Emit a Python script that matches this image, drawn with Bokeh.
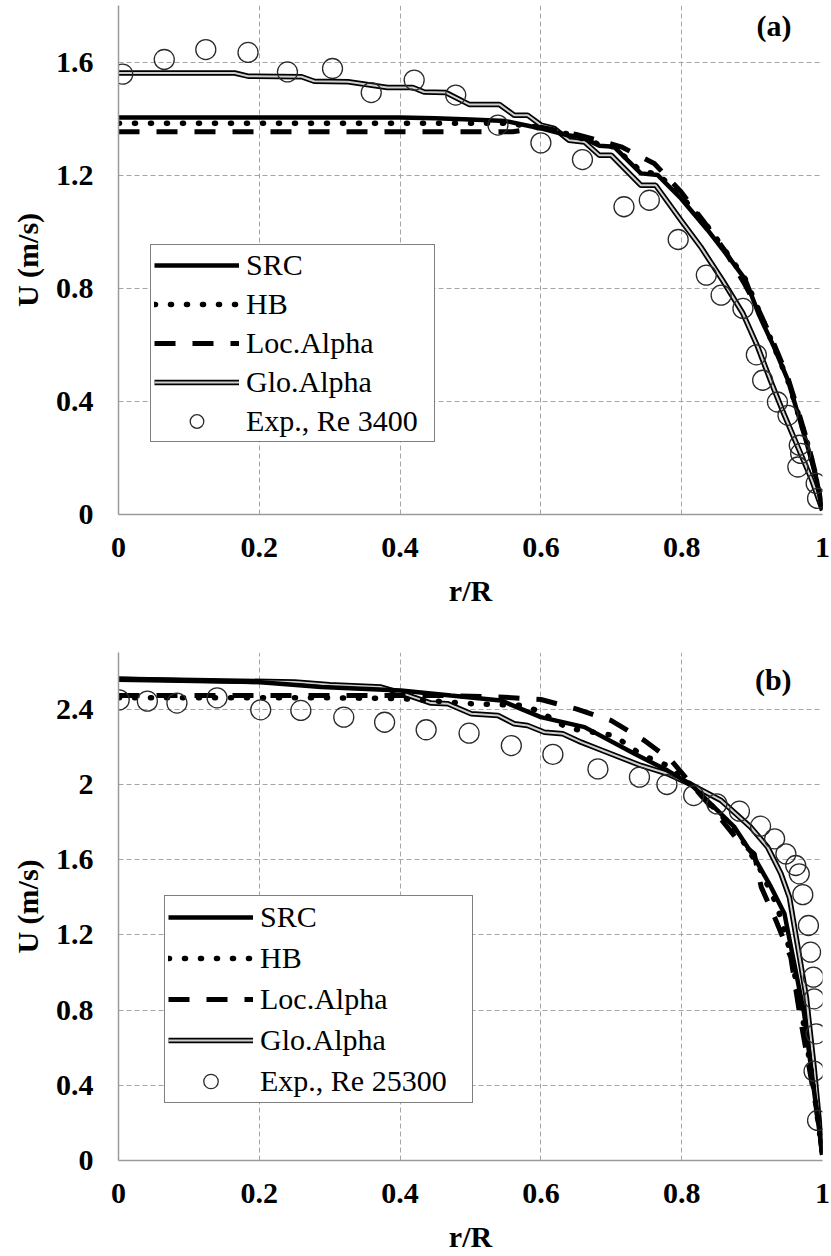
from bokeh.plotting import figure
from bokeh.models import Range1d, FixedTicker, Legend, LegendItem, Label
from bokeh.layouts import column
from bokeh.embed import file_html
from bokeh.resources import INLINE

FONT = "Liberation Serif"

# ---------------- data ----------------
x_ticks = [0, 0.2, 0.4, 0.6, 0.8, 1.0]
x_tick_labels = ["0", "0.2", "0.4", "0.6", "0.8", "1"]
ya_ticks = [0, 0.4, 0.8, 1.2, 1.6]
ya_tick_labels = ["0", "0.4", "0.8", "1.2", "1.6"]
yb_ticks = [0, 0.4, 0.8, 1.2, 1.6, 2.0, 2.4]
yb_tick_labels = ["0", "0.4", "0.8", "1.2", "1.6", "2", "2.4"]

# Panel (a)
src_a_x = [0, 0.40, 0.45, 0.50, 0.55, 0.60, 0.638, 0.657, 0.683, 0.704, 0.742, 0.766, 0.799, 0.837, 0.870, 0.891, 0.909, 0.931, 0.951, 0.965, 0.979, 0.992, 1.0]
src_a_y = [1.405, 1.405, 1.402, 1.398, 1.392, 1.366, 1.342, 1.336, 1.305, 1.301, 1.207, 1.201, 1.118, 1.006, 0.900, 0.829, 0.711, 0.593, 0.475, 0.357, 0.239, 0.121, 0.015]
hb_a_x = [0, 0.55, 0.60, 0.64, 0.683, 0.704, 0.742, 0.766, 0.80, 0.84, 0.87, 0.89, 0.91, 0.93, 0.95, 0.965, 0.98, 0.992, 1.0]
hb_a_y = [1.384, 1.384, 1.37, 1.345, 1.31, 1.30, 1.215, 1.205, 1.125, 1.01, 0.905, 0.835, 0.72, 0.60, 0.48, 0.36, 0.24, 0.12, 0.015]
loc_a_x = [0, 0.56, 0.60, 0.65, 0.714, 0.761, 0.799, 0.830, 0.861, 0.889, 0.91, 0.93, 0.95, 0.965, 0.98, 0.992, 1.0]
loc_a_y = [1.354, 1.354, 1.37, 1.345, 1.301, 1.242, 1.142, 1.041, 0.935, 0.817, 0.72, 0.61, 0.49, 0.37, 0.245, 0.125, 0.015]
glo_a_x = [0, 0.165, 0.184, 0.26, 0.278, 0.326, 0.382, 0.418, 0.434, 0.465, 0.498, 0.541, 0.562, 0.581, 0.600, 0.619, 0.640, 0.662, 0.683, 0.700, 0.742, 0.763, 0.799, 0.827, 0.858, 0.887, 0.908, 0.926, 0.945, 0.965, 0.985, 1.0]
glo_a_y = [1.562, 1.562, 1.551, 1.549, 1.533, 1.531, 1.511, 1.511, 1.495, 1.493, 1.451, 1.451, 1.413, 1.413, 1.378, 1.366, 1.324, 1.318, 1.271, 1.271, 1.165, 1.165, 1.041, 0.947, 0.829, 0.711, 0.593, 0.475, 0.357, 0.239, 0.121, 0.015]
exp_a_x = [0.006, 0.065, 0.124, 0.184, 0.240, 0.304, 0.359, 0.420, 0.479, 0.539, 0.600, 0.659, 0.718, 0.754, 0.795, 0.835, 0.856, 0.887, 0.906, 0.915, 0.936, 0.951, 0.967, 0.969, 0.965, 0.991, 0.993]
exp_a_y = [1.558, 1.610, 1.645, 1.635, 1.566, 1.578, 1.493, 1.537, 1.484, 1.378, 1.315, 1.256, 1.089, 1.112, 0.973, 0.847, 0.776, 0.729, 0.565, 0.475, 0.398, 0.351, 0.245, 0.216, 0.168, 0.110, 0.057]

# Panel (b)
src_b_x = [0, 0.202, 0.288, 0.401, 0.472, 0.543, 0.600, 0.662, 0.733, 0.780, 0.813, 0.846, 0.875, 0.903, 0.927, 0.946, 0.960, 0.974, 0.986, 1.0]
src_b_y = [2.562, 2.544, 2.518, 2.500, 2.473, 2.447, 2.358, 2.305, 2.163, 2.074, 2.0, 1.879, 1.773, 1.613, 1.454, 1.312, 1.046, 0.780, 0.426, 0.03]
hb_b_x = [0, 0.30, 0.40, 0.50, 0.576, 0.600, 0.638, 0.704, 0.742, 0.78, 0.813, 0.85, 0.88, 0.91, 0.935, 0.955, 0.97, 0.985, 1.0]
hb_b_y = [2.461, 2.461, 2.457, 2.43, 2.42, 2.385, 2.30, 2.26, 2.16, 2.10, 2.0, 1.86, 1.74, 1.56, 1.36, 1.10, 0.80, 0.45, 0.03]
loc_b_x = [0, 0.40, 0.468, 0.548, 0.600, 0.650, 0.700, 0.747, 0.785, 0.813, 0.846, 0.880, 0.903, 0.913, 0.932, 0.955, 0.969, 0.981, 0.991, 1.0]
loc_b_y = [2.473, 2.473, 2.473, 2.464, 2.452, 2.402, 2.340, 2.234, 2.128, 2.004, 1.862, 1.702, 1.631, 1.454, 1.294, 1.081, 0.745, 0.496, 0.284, 0.03]
glo_b_x = [0, 0.25, 0.30, 0.373, 0.401, 0.444, 0.468, 0.501, 0.539, 0.562, 0.581, 0.605, 0.631, 0.657, 0.681, 0.742, 0.780, 0.813, 0.856, 0.898, 0.922, 0.941, 0.953, 0.965, 0.977, 0.988, 1.0]
glo_b_y = [2.56, 2.545, 2.53, 2.518, 2.487, 2.433, 2.429, 2.376, 2.367, 2.323, 2.314, 2.278, 2.270, 2.225, 2.190, 2.101, 2.057, 2.0, 1.915, 1.773, 1.667, 1.525, 1.40, 1.135, 0.869, 0.496, 0.03]
exp_b_x = [0.001, 0.041, 0.083, 0.140, 0.202, 0.259, 0.320, 0.378, 0.437, 0.498, 0.558, 0.617, 0.681, 0.740, 0.779, 0.817, 0.850, 0.882, 0.912, 0.932, 0.948, 0.962, 0.967, 0.972, 0.980, 0.983, 0.987, 0.988, 0.991, 0.988, 0.993]
exp_b_y = [2.450, 2.443, 2.433, 2.461, 2.397, 2.394, 2.358, 2.331, 2.291, 2.273, 2.207, 2.160, 2.083, 2.039, 2.000, 1.941, 1.897, 1.858, 1.778, 1.711, 1.631, 1.569, 1.525, 1.414, 1.250, 1.108, 0.975, 0.860, 0.674, 0.475, 0.213]

legend_labels = ["SRC", "HB", "Loc.Alpha", "Glo.Alpha"]


def make_panel(y_end, y_ticks, y_labels, series, exp_x, exp_y, exp_label,
               tag, tag_xy, legend_loc, label_w, glyph_h, min_top, frame_h, min_bottom):
    p = figure(output_backend="svg", toolbar_location=None,
               frame_width=704, frame_height=frame_h,
               min_border_left=118, min_border_right=9,
               min_border_top=min_top, min_border_bottom=min_bottom,
               x_range=Range1d(0, 1.0), y_range=Range1d(0, y_end))
    p.outline_line_color = None
    p.background_fill_color = "white"
    p.border_fill_color = "white"

    p.xaxis.ticker = FixedTicker(ticks=x_ticks)
    p.xaxis.major_label_overrides = {t: l for t, l in zip(x_ticks, x_tick_labels)}
    p.yaxis.ticker = FixedTicker(ticks=y_ticks)
    p.yaxis.major_label_overrides = {t: l for t, l in zip(y_ticks, y_labels)}
    p.xaxis.axis_label = "r/R"
    p.yaxis.axis_label = "U (m/s)"
    for ax in (p.xaxis, p.yaxis):
        ax.axis_line_color = "#9a9a9a"
        ax.axis_line_width = 1.5
        ax.major_tick_line_color = None
        ax.minor_tick_line_color = None
        ax.major_tick_out = 0
        ax.major_tick_in = 0
        ax.major_label_text_font = FONT
        ax.major_label_text_font_style = "bold"
        ax.major_label_text_font_size = "30px"
        ax.major_label_text_color = "black"
        ax.axis_label_text_font = FONT
        ax.axis_label_text_font_style = "bold"
        ax.axis_label_text_font_size = "30px"
        ax.axis_label_text_color = "black"
    p.xaxis.major_label_standoff = 23
    p.xaxis.axis_label_standoff = 14
    p.yaxis.major_label_standoff = 25
    p.yaxis.axis_label_standoff = 9

    for g in (p.xgrid, p.ygrid):
        g.grid_line_color = "#a6a6a6"
        g.grid_line_dash = "5 3"
        g.grid_line_width = 1
    p.xgrid.ticker = FixedTicker(ticks=x_ticks)
    p.ygrid.ticker = FixedTicker(ticks=y_ticks)

    (sx, sy), (hx, hy), (lx, ly), (gx, gy) = series
    glo_o = p.line(gx, gy, line_color="black", line_width=5.5)
    glo_i = p.line(gx, gy, line_color="#cfcfcf", line_width=2)
    src = p.line(sx, sy, line_color="black", line_width=4.5)
    hb = p.line(hx, hy, line_color="black", line_width=5.5, line_dash="1 15", line_cap="round")
    loc = p.line(lx, ly, line_color="black", line_width=5, line_dash="21 17")
    exp = p.scatter(exp_x, exp_y, marker="circle", size=20, fill_color=None,
                    line_color="#2a2a2a", line_width=1.3)

    items = [
        LegendItem(label=legend_labels[0], renderers=[src]),
        LegendItem(label=legend_labels[1], renderers=[hb]),
        LegendItem(label=legend_labels[2], renderers=[loc]),
        LegendItem(label=legend_labels[3], renderers=[glo_o, glo_i]),
        LegendItem(label=exp_label, renderers=[exp]),
    ]
    leg = Legend(items=items, location=legend_loc,
                 label_text_font=FONT, label_text_font_size="30px",
                 label_text_color="black",
                 glyph_width=85, glyph_height=glyph_h, label_height=glyph_h,
                 label_width=label_w,
                 label_standoff=7, spacing=5, padding=3, margin=0,
                 border_line_color="black", border_line_width=1.5,
                 background_fill_color="white", background_fill_alpha=1.0)
    p.add_layout(leg)

    lab = Label(x=tag_xy[0], y=tag_xy[1], text=tag, text_font=FONT,
                text_font_style="bold", text_font_size="30px",
                text_align="center", text_baseline="middle", text_color="black")
    p.add_layout(lab)
    return p


pa = make_panel(1.801, ya_ticks, ya_tick_labels,
                [(src_a_x, src_a_y), (hb_a_x, hb_a_y), (loc_a_x, loc_a_y), (glo_a_x, glo_a_y)],
                exp_a_x, exp_a_y, "Exp., Re 3400",
                "(a)", (0.931, 1.731), (32, 72), 185, 34, 5, 509, 100)
pb = make_panel(2.702, yb_ticks, yb_tick_labels,
                [(src_b_x, src_b_y), (hb_b_x, hb_b_y), (loc_b_x, loc_b_y), (glo_b_x, glo_b_y)],
                exp_b_x, exp_b_y, "Exp., Re 25300",
                "(b)", (0.930, 2.559), (46, 57), 209, 36, 38, 508, 94)

layout = column(pa, pb, spacing=0)
open("out.html", "w").write(file_html(layout, INLINE))
